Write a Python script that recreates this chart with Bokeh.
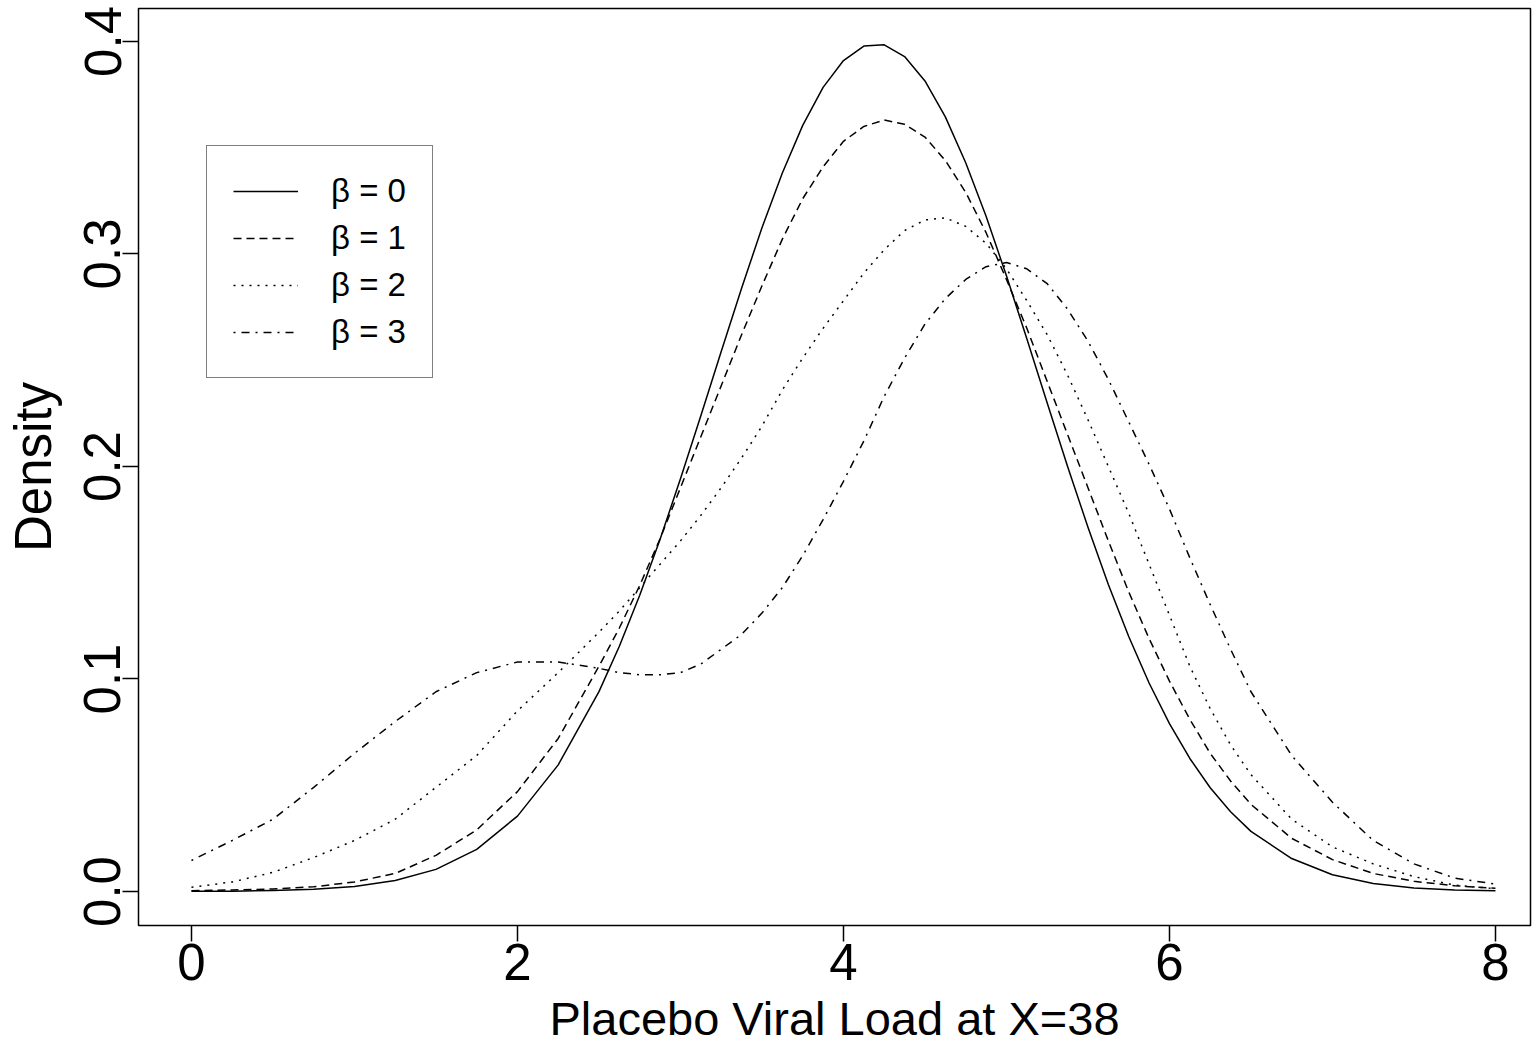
from bokeh.plotting import figure
from bokeh.models import FixedTicker, PrintfTickFormatter, Legend, LegendItem, Range1d
from bokeh.embed import file_html
from bokeh.resources import INLINE

# ---- data ----
x_grid = [0, 0.25, 0.5, 0.75, 1.0, 1.25, 1.5, 1.75, 2.0, 2.25, 2.5,
          2.625, 2.75, 2.875, 3.0, 3.125, 3.25, 3.375, 3.5, 3.625, 3.75, 3.875,
          4.0, 4.125, 4.25, 4.375, 4.5, 4.625, 4.75, 4.875, 5.0, 5.125, 5.25,
          5.375, 5.5, 5.625, 5.75, 5.875, 6.0, 6.125, 6.25, 6.375, 6.5,
          6.75, 7.0, 7.25, 7.5, 7.75, 8.0]

beta0 = [0.0001, 0.00016, 0.00042, 0.00104, 0.00238, 0.00514, 0.01042, 0.01985, 0.03547, 0.05959, 0.09405,
         0.1154, 0.1394, 0.1658, 0.1942, 0.2239, 0.2541, 0.2839, 0.3123, 0.3381, 0.3605, 0.3784,
         0.3910, 0.3978, 0.3984, 0.3929, 0.3814, 0.3645, 0.3429, 0.3177, 0.2897, 0.2601, 0.2299,
         0.2000, 0.1714, 0.1445, 0.1200, 0.0981, 0.0790, 0.0626, 0.0488, 0.0375, 0.0283,
         0.0155, 0.0079, 0.0038, 0.0017, 0.0007, 0.0003]

beta1 = [0.0004, 0.0007, 0.0012, 0.0022, 0.0045, 0.0085, 0.0170, 0.0290, 0.047, 0.072, 0.106,
         0.124, 0.144, 0.166, 0.190, 0.214, 0.238, 0.262, 0.285, 0.307, 0.326, 0.341,
         0.353, 0.360, 0.363, 0.361, 0.355, 0.344, 0.329, 0.310, 0.288, 0.265, 0.240,
         0.215, 0.190, 0.165, 0.141, 0.119, 0.099, 0.081, 0.065, 0.052, 0.041,
         0.025, 0.015, 0.0085, 0.0048, 0.0027, 0.0015]

beta2 = [0.002, 0.0045, 0.009, 0.016, 0.024, 0.034, 0.049, 0.064, 0.085, 0.103, 0.122,
         0.132, 0.143, 0.154, 0.165, 0.177, 0.190, 0.204, 0.219, 0.236, 0.251, 0.265,
         0.278, 0.291, 0.302, 0.311, 0.316, 0.317, 0.313, 0.305, 0.293, 0.278, 0.262,
         0.243, 0.222, 0.200, 0.178, 0.154, 0.130, 0.106, 0.086, 0.069, 0.055,
         0.034, 0.021, 0.013, 0.007, 0.003, 0.0013]

beta3 = [0.0146, 0.024, 0.034, 0.049, 0.065, 0.080, 0.094, 0.103, 0.108, 0.108, 0.105,
         0.103, 0.102, 0.102, 0.103, 0.107, 0.114, 0.121, 0.131, 0.143, 0.158, 0.175,
         0.193, 0.212, 0.233, 0.251, 0.267, 0.279, 0.288, 0.294, 0.296, 0.293, 0.286,
         0.274, 0.259, 0.241, 0.221, 0.201, 0.180, 0.157, 0.135, 0.114, 0.094,
         0.064, 0.042, 0.024, 0.013, 0.0063, 0.0035]

series_labels = ["\u03b2 = 0", "\u03b2 = 1", "\u03b2 = 2", "\u03b2 = 3"]
x_ticks = [0, 2, 4, 6, 8]
y_ticks = [0.0, 0.1, 0.2, 0.3, 0.4]
x_title = "Placebo Viral Load at X=38"
y_title = "Density"

FONT = "Liberation Sans"

p = figure(width=1535, height=1052, output_backend="svg", toolbar_location=None,
           x_range=Range1d(-0.325, 8.215), y_range=Range1d(-0.016, 0.4155),
           min_border_left=138, min_border_right=5, min_border_top=8, min_border_bottom=127)

p.background_fill_color = "white"
p.border_fill_color = "white"
p.grid.visible = False
p.outline_line_color = "black"
p.outline_line_width = 1.5

styles = [
    dict(line_dash="solid"),
    dict(line_dash="8 5"),
    dict(line_dash="2 6"),
    dict(line_dash="2 6 8 6"),
]
renderers = []
for ys, st in zip([beta0, beta1, beta2, beta3], styles):
    r = p.line(x_grid, ys, line_color="black", line_width=1.5, line_join="round", **st)
    renderers.append(r)

legend = Legend(items=[LegendItem(label=l, renderers=[r]) for l, r in zip(series_labels, renderers)],
                location=(68, 547))
legend.label_text_font = FONT
legend.label_text_font_size = "33px"
legend.label_text_color = "black"
legend.glyph_width = 65
legend.glyph_height = 30
legend.label_height = 30
legend.label_standoff = 33
legend.spacing = 9
legend.padding = 26
legend.margin = 0
legend.border_line_color = "black"
legend.border_line_width = 1.5
legend.background_fill_alpha = 1.0
p.add_layout(legend)

for ax in (p.xaxis, p.yaxis):
    ax.axis_line_color = None
    ax.major_tick_line_color = "black"
    ax.major_tick_line_width = 1.5
    ax.major_tick_out = 16
    ax.major_tick_in = 0
    ax.minor_tick_line_color = None
    ax.major_label_text_font = FONT
    ax.major_label_text_font_size = "51px"
    ax.major_label_text_color = "black"
    ax.axis_label_text_font = FONT
    ax.axis_label_text_font_style = "normal"
    ax.axis_label_text_color = "black"

p.xaxis.ticker = FixedTicker(ticks=x_ticks)
p.yaxis.ticker = FixedTicker(ticks=y_ticks)
p.yaxis.formatter = PrintfTickFormatter(format="%.1f")
p.yaxis.major_label_orientation = "vertical"
p.xaxis.major_label_standoff = 2
p.yaxis.major_label_standoff = 2
p.xaxis.axis_label = x_title
p.yaxis.axis_label = y_title
p.xaxis.axis_label_text_font_size = "47px"
p.yaxis.axis_label_text_font_size = "51px"
p.xaxis.axis_label_standoff = 9
p.yaxis.axis_label_standoff = 20

open("out.html", "w").write(file_html(p, INLINE))
